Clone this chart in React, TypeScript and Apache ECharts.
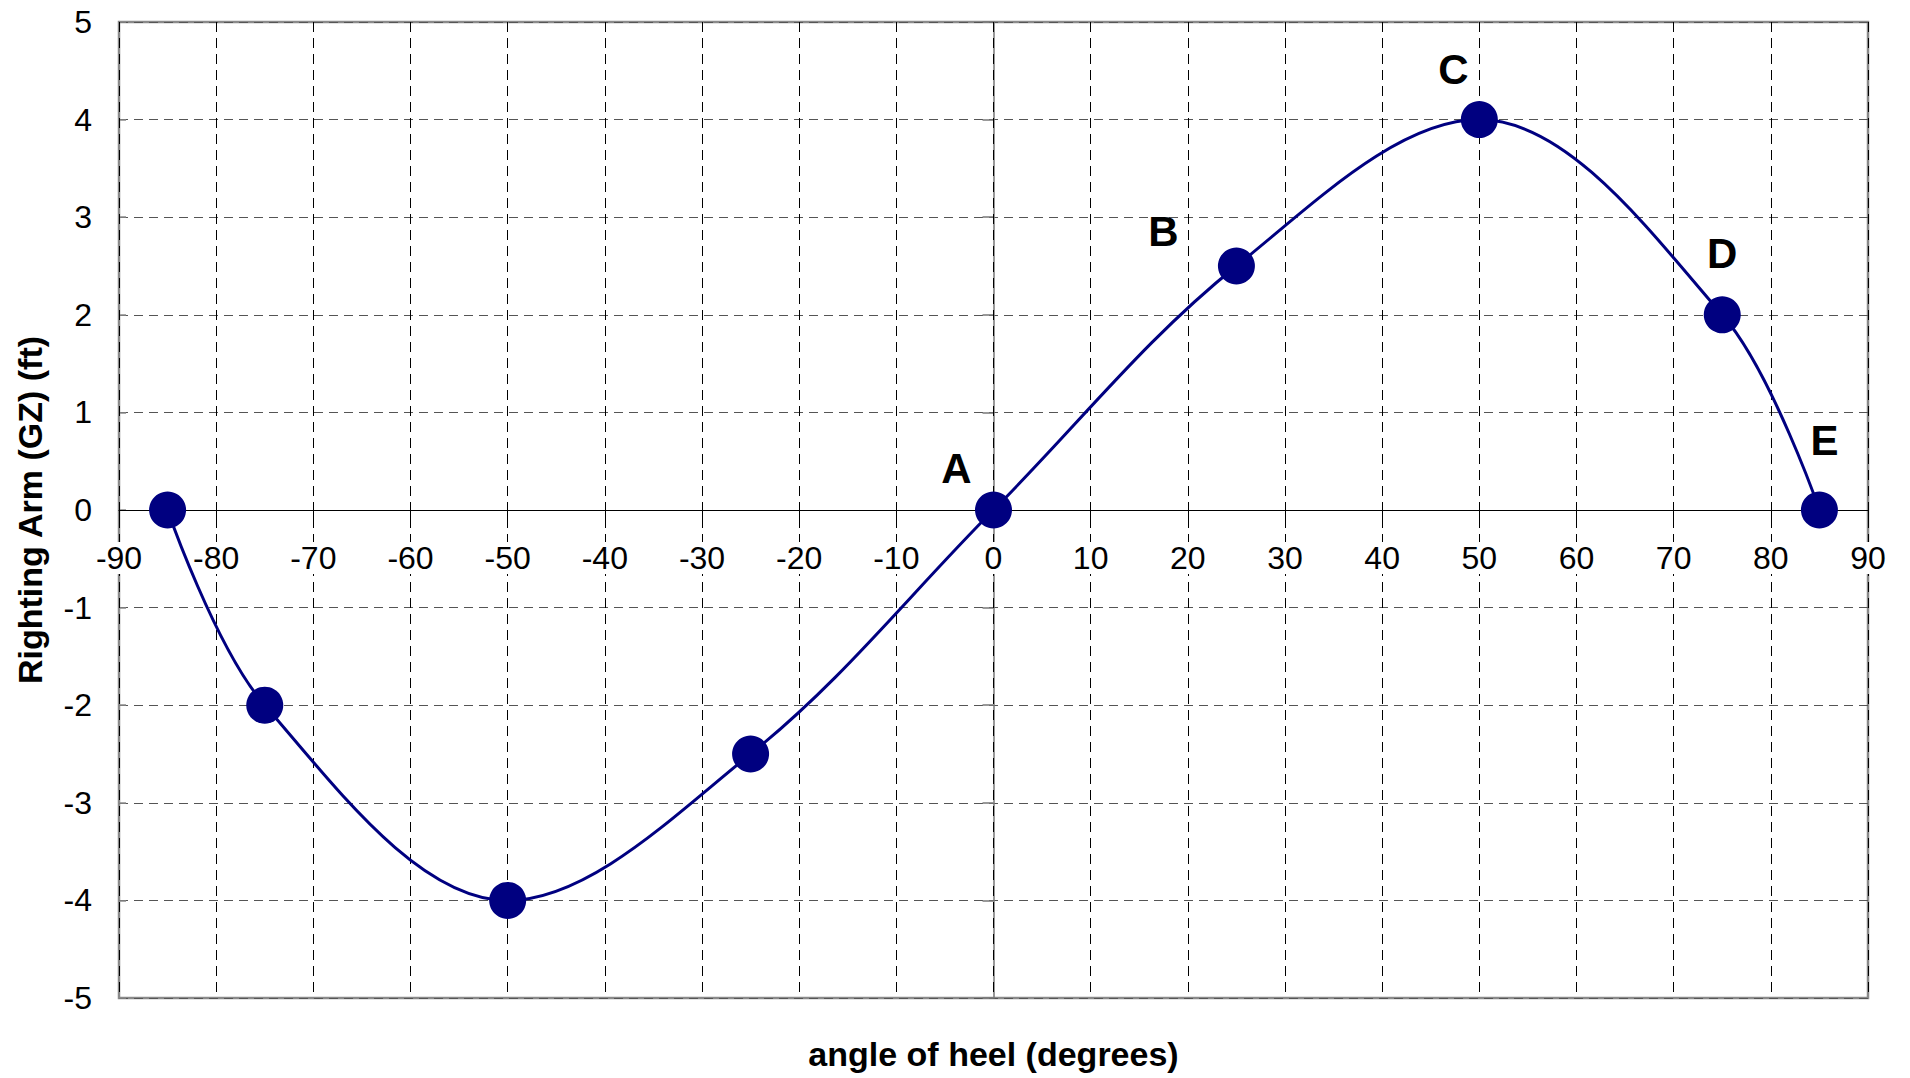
import React, { useEffect, useRef } from "react";
import * as echarts from "echarts";

const heelAngles = [-85, -75, -50, -25, 0, 25, 50, 75, 85];
const rightingArm = [0, -2, -4, -2.5, 0, 2.5, 4, 2, 0];
const pointNames = ["", "", "", "", "A", "B", "C", "D", "E"];
const labelOffsets: [number, number][] = [
  [0, 0], [0, 0], [0, 0], [0, 0],
  [-37, -42], [-73, -35], [-26, -50], [0, -61], [5, -70],
];

const FONT = "'Liberation Sans', Arial, Helvetica, sans-serif";

const GRID_TOP = 22;
const GRID_BOTTOM = 80;
const CHART_H = 1078;
// move the x axis up to the y = 0 line (middle of the plot, since y runs -5..5)
const X_AXIS_OFFSET = -(CHART_H - GRID_TOP - GRID_BOTTOM) / 2;

export default function App() {
  const ref = useRef<HTMLDivElement>(null);

  useEffect(() => {
    if (!ref.current) return;
    const chart = echarts.init(ref.current, undefined, { renderer: "svg" });

    const data = heelAngles.map((x, i) => ({
      value: [x, rightingArm[i]],
      label: {
        show: pointNames[i] !== "",
        formatter: pointNames[i],
        position: "inside",
        offset: labelOffsets[i],
      },
    }));

    chart.setOption({
      animation: false,
      backgroundColor: "#ffffff",
      textStyle: { fontFamily: FONT },
      grid: {
        left: 119,
        right: 42,
        top: GRID_TOP,
        bottom: GRID_BOTTOM,
        show: true,
        borderColor: "#8a8a8a",
        borderWidth: 2.5,
        containLabel: false,
        outerBoundsMode: "none",
      },
      xAxis: [
        {
          type: "value",
          min: -90,
          max: 90,
          interval: 10,
          position: "bottom",
          offset: X_AXIS_OFFSET,
          axisLine: { show: true, onZero: false, lineStyle: { color: "#000", width: 1.2 } },
          axisTick: { show: true, inside: false, length: 9, lineStyle: { color: "#000", width: 1 } },
          axisLabel: {
            fontSize: 32,
            color: "#000",
            margin: 32,
            fontFamily: FONT,
            backgroundColor: "#ffffff",
            padding: [0, 3, 0, 3],
          },
          splitLine: { show: true, lineStyle: { color: "#000", width: 1, type: [10, 6] } },
          name: "angle of heel (degrees)",
          nameLocation: "middle",
          nameGap: 527,
          nameTextStyle: { fontSize: 34, fontWeight: "bold", color: "#000", fontFamily: FONT },
          z: 3,
        },
      ],
      yAxis: [
        {
          type: "value",
          min: -5,
          max: 5,
          interval: 1,
          position: "left",
          axisLine: { show: false, onZero: false },
          axisTick: { show: true, inside: true, length: 7, lineStyle: { color: "#8a8a8a", width: 1.5 } },
          axisLabel: { fontSize: 32, color: "#000", margin: 27, fontFamily: FONT },
          splitLine: { show: true, lineStyle: { color: "#555", width: 1.2, type: [9, 6] } },
          name: "Righting Arm (GZ) (ft)",
          nameLocation: "middle",
          nameGap: 72,
          nameTextStyle: { fontSize: 34, fontWeight: "bold", color: "#000", fontFamily: FONT },
        },
        {
          type: "value",
          min: -5,
          max: 5,
          interval: 1,
          position: "left",
          axisLine: { show: true, onZero: true, onZeroAxisIndex: 0, lineStyle: { color: "#777", width: 1.5 } },
          axisTick: { show: true, inside: false, length: 11, lineStyle: { color: "#777", width: 1.5 } },
          axisLabel: { show: false },
          splitLine: { show: false },
        },
      ],
      series: [
        {
          type: "line",
          xAxisIndex: 0,
          yAxisIndex: 0,
          data,
          smooth: 0.35,
          clip: false,
          symbol: "circle",
          symbolSize: 37,
          lineStyle: { color: "#000080", width: 3 },
          itemStyle: { color: "#000080" },
          label: {
            fontSize: 42,
            fontWeight: "bold",
            color: "#000",
            fontFamily: FONT,
          },
          z: 5,
        },
      ],
    });

    return () => chart.dispose();
  }, []);

  return (
    <div
      ref={ref}
      style={{ position: "fixed", left: 0, top: 0, width: 1910, height: 1078 }}
    />
  );
}
